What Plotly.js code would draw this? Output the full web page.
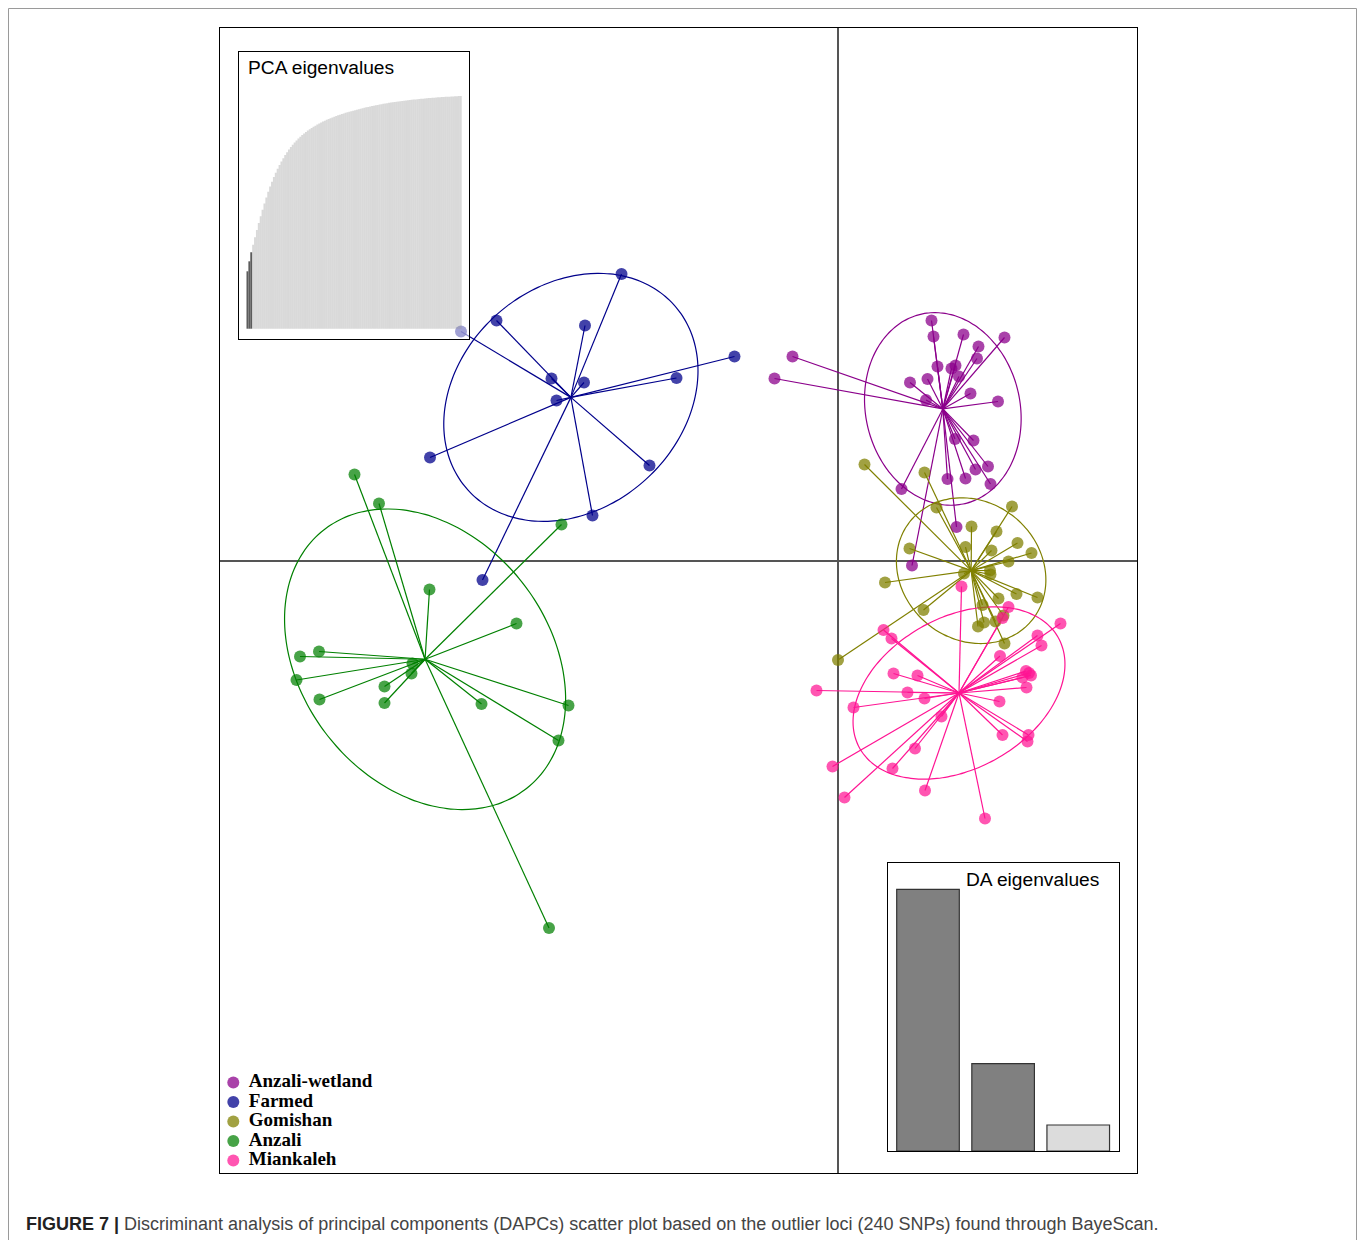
<!DOCTYPE html>
<html>
<head>
<meta charset="utf-8">
<script src="https://cdn.plot.ly/plotly-3.0.1.min.js"></script>
<style>
html,body{margin:0;padding:0;background:#fff;}
#chart{width:1358px;height:1240px;}
</style>
</head>
<body>
<div id="chart"></div>
<script>
// ---------------- DATA ----------------
const groups = ['Anzali-wetland', 'Farmed', 'Gomishan', 'Anzali', 'Miankaleh'];

// Discriminant function scores (LD1, LD2) per individual
const wetlandX = [-0.91, -1.27, 1.87, 1.91, 2.51, 3.33, 2.81, 2.78, 1.99, 2.35, 2.27, 2.42, 1.44, 1.79, 2.65, 3.20, 1.76, 2.34, 2.71, 3.00, 2.75, 2.19, 2.55, 3.05, 1.27, 2.37, 1.48];
const wetlandY = [4.09, 3.65, 4.81, 4.49, 4.53, 4.47, 4.29, 4.05, 3.89, 3.91, 3.85, 3.69, 3.57, 3.64, 3.35, 3.19, 3.22, 2.44, 2.41, 1.89, 1.83, 1.64, 1.65, 1.54, 1.44, 0.68, -0.09];

const farmedX = [-4.33, -6.83, -7.54, -5.06, -5.73, -5.08, -5.63, -3.23, -2.07, -8.16, -3.77, -4.91, -7.11];
const farmedY = [5.74, 4.81, 4.59, 4.71, 3.65, 3.57, 3.21, 3.66, 4.09, 2.07, 1.91, 0.91, -0.38];

const gomishanX = [0.53, 1.73, 1.97, 3.48, 2.67, 3.17, 1.43, 2.55, 3.07, 3.59, 3.87, 3.41, 2.52, 3.04, 3.05, 0.94, 3.57, 3.99, 3.21, 2.89, 1.71, 3.31, 3.15, 2.92, 2.80, 3.33, 0.00];
const gomishanY = [1.93, 1.77, 1.07, 1.09, 0.69, 0.59, 0.25, 0.28, 0.21, 0.36, 0.16, -0.01, -0.25, -0.19, -0.27, -0.43, -0.66, -0.73, -0.75, -0.88, -0.98, -1.09, -1.21, -1.23, -1.31, -1.65, -1.98];

const anzaliX = [-9.67, -9.18, -5.53, -8.17, -6.43, -10.38, -10.76, -8.51, -8.53, -10.83, -9.07, -10.37, -9.07, -7.13, -5.39, -5.59, -5.78];
const anzaliY = [1.73, 1.15, 0.73, -0.57, -1.25, -1.81, -1.91, -2.05, -2.25, -2.38, -2.51, -2.77, -2.84, -2.86, -2.89, -3.59, -7.34];

const miankalehX = [2.47, 3.41, 3.29, 4.45, 0.91, 1.07, 3.99, 4.07, 3.24, 1.11, 1.59, 3.76, 3.86, 3.69, 3.82, 3.77, -0.43, 1.39, 1.73, 3.23, 0.31, 2.07, 3.29, 3.81, 3.79, 1.54, -0.11, 1.09, 1.74, 0.13, 2.94];
const miankalehY = [-0.51, -0.92, -1.14, -1.25, -1.38, -1.55, -1.49, -1.69, -1.90, -2.25, -2.29, -2.20, -2.29, -2.33, -2.24, -2.53, -2.59, -2.63, -2.75, -2.81, -2.93, -3.11, -3.48, -3.48, -3.61, -3.75, -4.11, -4.15, -4.59, -4.73, -5.15];

// PCA eigenvalues inset: cumulative variance (%) of each principal component
const pcaCumVar = [
  24.67, 28.96, 32.83, 36.10, 39.28, 42.37, 45.38, 48.30, 51.14, 53.85,
  56.42, 58.83, 61.07, 63.17, 65.15, 67.00, 68.72, 70.35, 71.85, 73.27,
  74.60, 75.85, 77.01, 78.08, 79.07, 80.02, 80.88, 81.69, 82.47, 83.20,
  83.88, 84.53, 85.13, 85.69, 86.23, 86.74, 87.24, 87.71, 88.16, 88.59,
  89.00, 89.39, 89.76, 90.11, 90.45, 90.77, 91.09, 91.39, 91.68, 91.96,
  92.24, 92.51, 92.76, 93.01, 93.25, 93.48, 93.71, 93.92, 94.13, 94.34,
  94.54, 94.74, 94.93, 95.12, 95.31, 95.49, 95.66, 95.84, 96.00, 96.17,
  96.33, 96.48, 96.63, 96.78, 96.92, 97.06, 97.19, 97.32, 97.44, 97.56,
  97.68, 97.79, 97.90, 98.00, 98.10, 98.19, 98.29, 98.38, 98.47, 98.55,
  98.64, 98.72, 98.80, 98.87, 98.95, 99.02, 99.09, 99.16, 99.23, 99.30,
  99.36, 99.42, 99.48, 99.53, 99.58, 99.64, 99.69, 99.73, 99.78, 99.82,
  99.87, 99.91, 99.95, 100.00
];
const nPcaRetained = 3;

// DA eigenvalues inset (relative)
const daEigen = [1.000, 0.334, 0.0994];
const nDaShown = 2;

const caption = '<b>FIGURE 7 |</b> <span style="color:#444">Discriminant analysis of principal components (DAPCs) scatter plot based on the outlier loci (240 SNPs) found through BayeScan.</span>';

// ---------------- STYLE ----------------
const lineColors = ['#8B008B', '#00008B', '#808000', '#008000', '#FF1493'];
const markerColors = ['rgba(139,0,139,0.74)', 'rgba(0,0,139,0.74)', 'rgba(128,128,0,0.74)', 'rgba(0,128,0,0.72)', 'rgba(255,20,147,0.72)'];
const groupX = [wetlandX, farmedX, gomishanX, anzaliX, miankalehX];
const groupY = [wetlandY, farmedY, gomishanY, anzaliY, miankalehY];

function mean(a) { return a.reduce((s, v) => s + v, 0) / a.length; }

function ellipsePath(xs, ys, scale) {
  const n = xs.length, mx = mean(xs), my = mean(ys);
  let sxx = 0, syy = 0, sxy = 0;
  for (let i = 0; i < n; i++) {
    const dx = xs[i] - mx, dy = ys[i] - my;
    sxx += dx * dx; syy += dy * dy; sxy += dx * dy;
  }
  sxx /= n; syy /= n; sxy /= n;
  const l11 = Math.sqrt(sxx), l21 = sxy / l11, l22 = Math.sqrt(Math.max(syy - l21 * l21, 0));
  const ex = [], ey = [];
  for (let k = 0; k <= 120; k++) {
    const t = 2 * Math.PI * k / 120;
    ex.push(mx + scale * l11 * Math.cos(t));
    ey.push(my + scale * (l21 * Math.cos(t) + l22 * Math.sin(t)));
  }
  return { ex, ey };
}

const traces = [];
// lines (stars) and ellipses
groups.forEach((g, gi) => {
  const xs = groupX[gi], ys = groupY[gi];
  const cx = mean(xs), cy = mean(ys);
  const sx = [], sy = [];
  xs.forEach((x, i) => { sx.push(cx, x, null); sy.push(cy, ys[i], null); });
  traces.push({ type: 'scatter', mode: 'lines', x: sx, y: sy, xaxis: 'x', yaxis: 'y',
    line: { color: lineColors[gi], width: 1.2 }, showlegend: false, hoverinfo: 'skip' });
  const e = ellipsePath(xs, ys, 1.5);
  traces.push({ type: 'scatter', mode: 'lines', x: e.ex, y: e.ey, xaxis: 'x', yaxis: 'y',
    line: { color: lineColors[gi], width: 1.2, shape: 'spline' }, showlegend: false, hoverinfo: 'skip' });
});
// points
groups.forEach((g, gi) => {
  traces.push({ type: 'scatter', mode: 'markers', name: g, x: groupX[gi], y: groupY[gi], xaxis: 'x', yaxis: 'y',
    marker: { color: markerColors[gi], size: 12, line: { width: 0 } }, showlegend: false, hoverinfo: 'skip' });
});

// ---- PCA inset (x2/y2) ----
const x2Range = [-3.47, 118.53], y2Range = [-4.43, 119.04];
traces.push({ type: 'bar', x: [(x2Range[0] + x2Range[1]) / 2], y: [y2Range[1] - y2Range[0]], base: [y2Range[0]],
  width: [x2Range[1] - x2Range[0]], xaxis: 'x2', yaxis: 'y2',
  marker: { color: 'rgba(255,255,255,0.5)', line: { width: 0 } }, showlegend: false, hoverinfo: 'skip' });
traces.push({ type: 'bar', x: pcaCumVar.map((v, i) => i + 1), y: pcaCumVar, width: pcaCumVar.map(() => 1),
  xaxis: 'x2', yaxis: 'y2',
  marker: { color: pcaCumVar.map((v, i) => i < nPcaRetained ? '#5c5c5c' : 'rgba(150,150,150,0.36)'), line: { width: 0 } },
  showlegend: false, hoverinfo: 'skip' });

// ---- DA inset (x3/y3) ----
const x3Range = [0.4715, 3.5426], y3Range = [0, 1.0994];
traces.push({ type: 'bar', x: [(x3Range[0] + x3Range[1]) / 2], y: [y3Range[1] - y3Range[0]], base: [y3Range[0]],
  width: [x3Range[1] - x3Range[0]], xaxis: 'x3', yaxis: 'y3',
  marker: { color: '#ffffff', line: { width: 0 } }, showlegend: false, hoverinfo: 'skip' });
traces.push({ type: 'bar', x: daEigen.map((v, i) => i + 1), y: daEigen, width: daEigen.map(() => 0.8333),
  xaxis: 'x3', yaxis: 'y3',
  marker: { color: daEigen.map((v, i) => i < nDaShown ? '#808080' : '#dcdcdc'), line: { color: '#333', width: 1.2 } },
  showlegend: false, hoverinfo: 'skip' });

// ---- Legend (x4/y4) ----
traces.push({ type: 'scatter', mode: 'markers', x: groups.map(() => 0), y: groups.map((g, i) => i),
  xaxis: 'x4', yaxis: 'y4', marker: { color: markerColors, size: 12, line: { width: 0 } },
  showlegend: false, hoverinfo: 'skip', cliponaxis: false });
traces.push({ type: 'scatter', mode: 'text', x: groups.map(() => 15.5), y: groups.map((g, i) => i),
  text: groups, textposition: 'middle right', xaxis: 'x4', yaxis: 'y4',
  textfont: { family: 'Liberation Serif, Times New Roman, serif', size: 19, color: '#000', weight: 'bold' },
  showlegend: false, hoverinfo: 'skip', cliponaxis: false });

const hidden = { showgrid: false, zeroline: false, showticklabels: false, ticks: '', fixedrange: true };

const layout = {
  width: 1358, height: 1240,
  margin: { l: 220, r: 221, t: 28, b: 67, pad: 0 },
  paper_bgcolor: '#ffffff', plot_bgcolor: 'rgba(255,255,255,0)',
  showlegend: false, hovermode: false, barmode: 'overlay',
  font: { family: 'Liberation Sans, Arial, sans-serif', color: '#000' },
  xaxis: { domain: [0, 1], range: [-12.36, 5.98], showgrid: false, zeroline: true, zerolinecolor: '#555', zerolinewidth: 1.4,
    showticklabels: false, ticks: '', showline: true, mirror: true, linecolor: '#000', linewidth: 1 },
  yaxis: { domain: [0, 1], range: [-12.24, 10.66], showgrid: false, zeroline: true, zerolinecolor: '#555', zerolinewidth: 1.4,
    showticklabels: false, ticks: '', showline: true, mirror: true, linecolor: '#000', linewidth: 1 },
  xaxis2: Object.assign({}, hidden, { domain: [0.02072, 0.27187], range: x2Range, anchor: 'y2', showline: true, mirror: true, linecolor: '#000', linewidth: 1 }),
  yaxis2: Object.assign({}, hidden, { domain: [0.72838, 0.97930], range: y2Range, anchor: 'x2', showline: true, mirror: true, linecolor: '#000', linewidth: 1 }),
  xaxis3: Object.assign({}, hidden, { domain: [0.72879, 0.98037], range: x3Range, anchor: 'y3', showline: true, mirror: true, linecolor: '#000', linewidth: 1 }),
  yaxis3: Object.assign({}, hidden, { domain: [0.019214, 0.27048], range: y3Range, anchor: 'x3', showline: true, mirror: true, linecolor: '#000', linewidth: 1 }),
  xaxis4: Object.assign({}, hidden, { domain: [0.00218, 0.2181], range: [-11.3, 186.7], anchor: 'y4', showline: false }),
  yaxis4: Object.assign({}, hidden, { domain: [0.00262, 0.08821], range: [4.487, -0.538], anchor: 'x4', showline: false }),
  annotations: [
    { xref: 'paper', yref: 'paper', x: 0.0284, y: 0.96507, xanchor: 'left', yanchor: 'middle', showarrow: false,
      text: 'PCA eigenvalues', font: { family: 'Liberation Sans, Arial, sans-serif', size: 19.2, color: '#000' } },
    { xref: 'paper', yref: 'paper', x: 0.9608, y: 0.2559, xanchor: 'right', yanchor: 'middle', showarrow: false,
      text: 'DA eigenvalues', font: { family: 'Liberation Sans, Arial, sans-serif', size: 19.2, color: '#000' } },
    { xref: 'paper', yref: 'paper', x: -0.2138, y: -0.04454, xanchor: 'left', yanchor: 'middle', showarrow: false,
      text: caption, font: { family: 'Liberation Sans, Arial, sans-serif', size: 18, color: '#222' } }
  ],
  shapes: [
    { type: 'rect', xref: 'paper', yref: 'paper', x0: -0.23064, x1: 1.23937, y0: -0.0700, y1: 1.01703,
      line: { color: '#9a9a9a', width: 1 }, fillcolor: 'rgba(0,0,0,0)', layer: 'below' }
  ]
};

Plotly.newPlot('chart', traces, layout, { displayModeBar: false, staticPlot: true });
</script>
</body>
</html>
